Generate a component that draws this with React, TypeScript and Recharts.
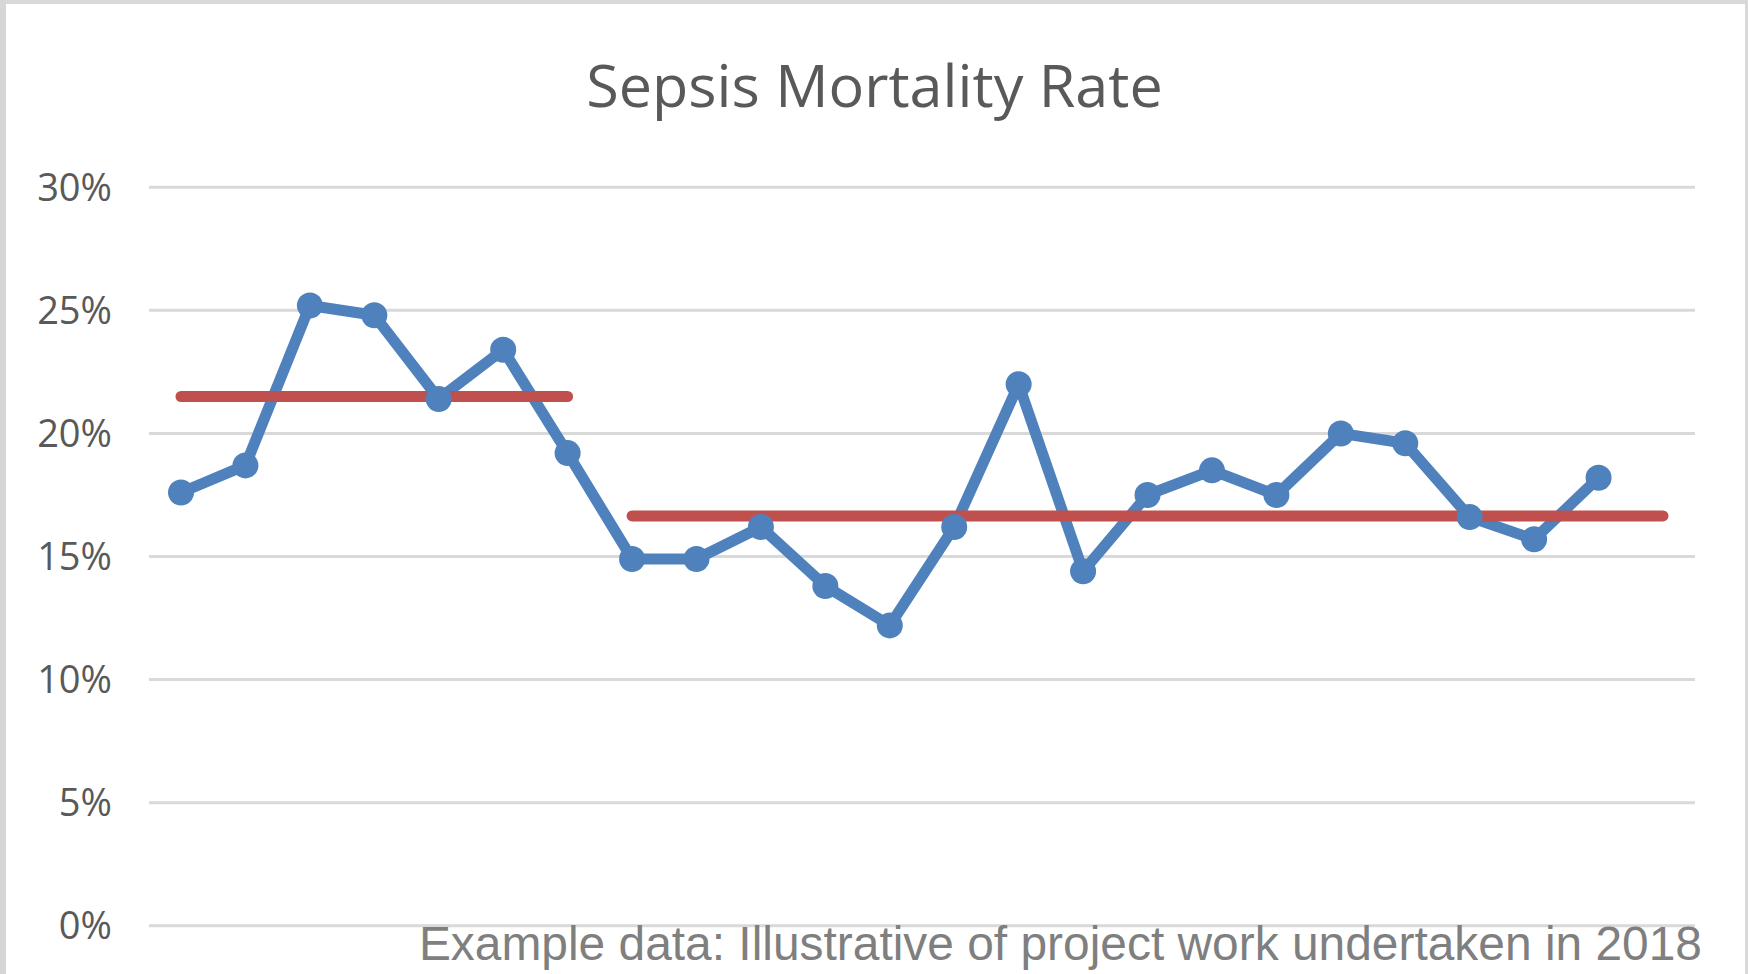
import { CartesianGrid, Line, LineChart, XAxis, YAxis } from "recharts";

const periods = [
  "1", "2", "3", "4", "5", "6", "7", "8", "9", "10", "11", "12",
  "13", "14", "15", "16", "17", "18", "19", "20", "21", "22", "23", "24",
];

// monthly sepsis mortality (%), last period has no value yet
const mortality = [
  17.6, 18.7, 25.2, 24.8, 21.4, 23.4, 19.2, 14.9, 14.9, 16.2, 13.8, 12.2,
  16.2, 22.0, 14.4, 17.5, 18.5, 17.5, 20.0, 19.6, 16.6, 15.7, 18.2, null,
];

// mean before the change (periods 1-7) and after (periods 8-24)
const meanBefore = [
  21.5, 21.5, 21.5, 21.5, 21.5, 21.5, 21.5, null, null, null, null, null,
  null, null, null, null, null, null, null, null, null, null, null, null,
];
const meanAfter = [
  null, null, null, null, null, null, null, 16.65, 16.65, 16.65, 16.65, 16.65,
  16.65, 16.65, 16.65, 16.65, 16.65, 16.65, 16.65, 16.65, 16.65, 16.65, 16.65, 16.65,
];

const yTicks = [0, 5, 10, 15, 20, 25, 30];

const title = "Sepsis Mortality Rate";
const footnote = "Example data: Illustrative of project work undertaken in 2018";

const W = 1748;
const H = 974;

export default function App() {
  const data = periods.map((p, i) => ({
    period: p,
    rate: mortality[i],
    before: meanBefore[i],
    after: meanAfter[i],
  }));

  return (
    <div
      style={{
        position: "fixed",
        left: 0,
        top: 0,
        width: W,
        height: H,
        background: "#ffffff",
        overflow: "hidden",
      }}
    >
      {/* frame of the pasted chart */}
      <div style={{ position: "absolute", left: 0, top: 0, width: W, height: 4, background: "#d9d9d9" }} />
      <div style={{ position: "absolute", left: 0, top: 0, width: 6, height: H, background: "#d6d6d6" }} />
      <div style={{ position: "absolute", left: W - 3, top: 0, width: 3, height: H, background: "#d9d9d9" }} />

      <div style={{ position: "absolute", left: 0, top: 0 }}>
        <LineChart
          width={W}
          height={H}
          data={data}
          margin={{ top: 187.3, right: 53, bottom: 48.3, left: 0 }}
        >
          <CartesianGrid vertical={false} stroke="#d9d9d9" strokeWidth={3} />
          <XAxis dataKey="period" hide padding={{ left: 32, right: 32 }} />
          <YAxis
            width={149}
            domain={[0, 30]}
            ticks={yTicks}
            tickFormatter={(v) => `${v}%`}
            axisLine={false}
            tickLine={false}
            tickSize={0}
            tickMargin={37}
            tick={{ fill: "#595959", fontSize: 38, fontFamily: "Open Sans" }}
          />
          <Line
            dataKey="rate"
            stroke="#4f81bd"
            strokeWidth={11}
            strokeLinejoin="round"
            dot={{ r: 13, fill: "#4f81bd", stroke: "#4f81bd", strokeWidth: 0 }}
            activeDot={false}
            isAnimationActive={false}
          />
          <Line
            dataKey="before"
            stroke="#c0504d"
            strokeWidth={11}
            strokeLinecap="round"
            dot={false}
            activeDot={false}
            isAnimationActive={false}
          />
          <Line
            dataKey="after"
            stroke="#c0504d"
            strokeWidth={11}
            strokeLinecap="round"
            dot={false}
            activeDot={false}
            isAnimationActive={false}
          />
        </LineChart>
      </div>

      <svg
        width={W}
        height={H}
        style={{ position: "absolute", left: 0, top: 0, pointerEvents: "none" }}
      >
        <text
          x={874.5}
          y={107}
          textAnchor="middle"
          fill="#595959"
          fontSize={59.3}
          fontFamily="Open Sans"
        >
          {title}
        </text>
        <text
          x={1702}
          y={960}
          textAnchor="end"
          fill="#7f7f7f"
          fontSize={47.9}
          fontFamily="Liberation Sans, Arial, sans-serif"
        >
          {footnote}
        </text>
      </svg>
    </div>
  );
}
